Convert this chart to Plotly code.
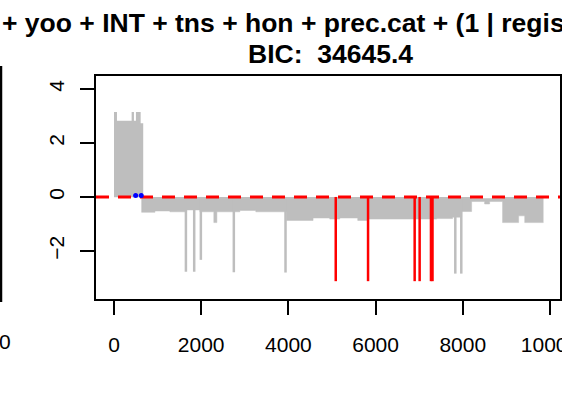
import plotly.graph_objects as go

# ---- data ----
# residual band drawn as a dense line: step profile of its upper and lower envelope
band_x = [1, 69, 405, 458, 504, 612, 635, 671, 939, 1283, 1666, 1970, 2290, 2360,
          2887, 3253, 3956, 4566, 4948, 5178, 5590, 5819, 7400, 7766, 7972, 8202,
          8500, 8615, 8912, 9280, 9420, 9850]
band_top = [3.15, 2.82, 3.15, 2.82, 3.15, 2.73, 2.73, 0, 0, 0, 0, 0, 0, 0,
            0, 0, 0, 0, 0, 0, 0, 0, 0, 0, 0, -0.05,
            -0.05, -0.05, 0, 0, 0]
band_bot = [0, 0, 0, 0, 0, 0, -0.57, -0.57, -0.52, -0.55, -0.48, -0.55, -0.95, -0.55,
            -0.5, -0.55, -0.87, -0.78, -0.82, -0.78, -0.87, -0.82, -0.8, -0.75, -0.54, -0.17,
            -0.26, -0.17, -0.95, -0.7, -0.95]

# isolated large negative residuals (grey)
spike_x = [1650, 1840, 1993, 2749, 3934, 7828, 7965]
spike_y = [-2.77, -2.77, -2.33, -2.79, -2.8, -2.84, -2.84]

# flagged residuals (red)
flag_x = [5086, 5827, 6896, 7010, 7270, 7305]
flag_y = [-3.12, -3.12, -3.12, -3.12, -3.12, -3.12]

# highlighted points (blue)
blue_x = [497, 625]
blue_y = [0.05, 0.05]

title_line1 = "+ yoo + INT + tns + hon + prec.cat + (1 | regis"
title_line2 = "BIC:  34645.4"

x_ticks = [0, 2000, 4000, 6000, 8000, 10000]
x_labels = ["0", "2000", "4000", "6000", "8000", "10000"]
y_ticks = [-2, 0, 2, 4]
y_labels = ["\u22122", "0", "2", "4"]

GREY = "#BEBEBE"
FONT = "Liberation Sans"


def segments(xs, ys):
    # vertical segments from 0 to each value, separated by gaps
    sx, sy = [], []
    for x, y in zip(xs, ys):
        sx += [x, x, None]
        sy += [0, y, None]
    return sx, sy


fig = go.Figure()

# band envelope (repeat last value so the final step is drawn)
fig.add_trace(go.Scatter(x=band_x, y=band_top + [band_top[-1]], mode="lines",
                         line=dict(width=0, shape="hv", color=GREY),
                         showlegend=False, hoverinfo="skip"))
fig.add_trace(go.Scatter(x=band_x, y=band_bot + [band_bot[-1]], mode="lines",
                         line=dict(width=0.5, shape="hv", color=GREY),
                         fill="tonexty", fillcolor=GREY,
                         showlegend=False, hoverinfo="skip"))

sx, sy = segments(spike_x, spike_y)
fig.add_trace(go.Scatter(x=sx, y=sy, mode="lines", line=dict(color=GREY, width=2.5),
                         showlegend=False))

fx, fy = segments(flag_x, flag_y)
fig.add_trace(go.Scatter(x=fx, y=fy, mode="lines", line=dict(color="#FF0000", width=2.5),
                         showlegend=False))

# zero reference line (abline h=0)
fig.add_trace(go.Scatter(x=[-412, 10229], y=[0, 0], mode="lines",
                         line=dict(color="#FF0000", width=3, dash="13px,9px"),
                         showlegend=False))

fig.add_trace(go.Scatter(x=blue_x, y=blue_y, mode="markers",
                         marker=dict(color="#0000FF", size=5), showlegend=False))

# title (wider than the panel, clipped by the page edge)
fig.add_annotation(text=title_line1, xref="paper", yref="paper",
                   x=(0 - 96) / 464, xanchor="left", y=(299 - 23) / 223, yanchor="middle",
                   showarrow=False, font=dict(family=FONT, size=26.5, color="black", weight="bold"))
fig.add_annotation(text=title_line2, xref="paper", yref="paper",
                   x=(330 - 96) / 464, xanchor="center", y=(299 - 54) / 223, yanchor="middle",
                   showarrow=False, font=dict(family=FONT, size=26.5, color="black", weight="bold"))

# sliver of the neighbouring panel on the left
fig.add_shape(type="line", xref="paper", yref="paper",
              x0=(1 - 96) / 464, x1=(1 - 96) / 464, y0=(299 - 66) / 223, y1=(299 - 302) / 223,
              line=dict(color="black", width=2.5))
fig.add_annotation(text="0", xref="paper", yref="paper", x=(5 - 96) / 464, y=(299 - 341) / 223,
                   xanchor="center", yanchor="middle", showarrow=False,
                   font=dict(family=FONT, size=21, color="black"))

axis_common = dict(ticks="outside", ticklen=14, tickwidth=2, tickcolor="black",
                   showgrid=False, zeroline=False, showline=True, linecolor="black",
                   linewidth=2, mirror=True, automargin=False, ticklabeloverflow="allow")

fig.update_layout(
    width=562, height=397,
    margin=dict(l=96, r=2, t=76, b=98),
    plot_bgcolor="white", paper_bgcolor="white",
    font=dict(family=FONT, size=21, color="black"),
    xaxis=dict(range=[-412, 10229], tickvals=x_ticks, ticktext=x_labels,
               ticklabelstandoff=12, **axis_common),
    yaxis=dict(range=[-3.78, 4.48], tickvals=y_ticks, ticktext=y_labels,
               tickangle=-90, ticklabelstandoff=8, **axis_common),
)

# drop the default page margin so the figure sits at the window's top-left corner
fig.write_html("out.html", config={"displayModeBar": False},
               post_script="document.body.style.margin = '0';")
